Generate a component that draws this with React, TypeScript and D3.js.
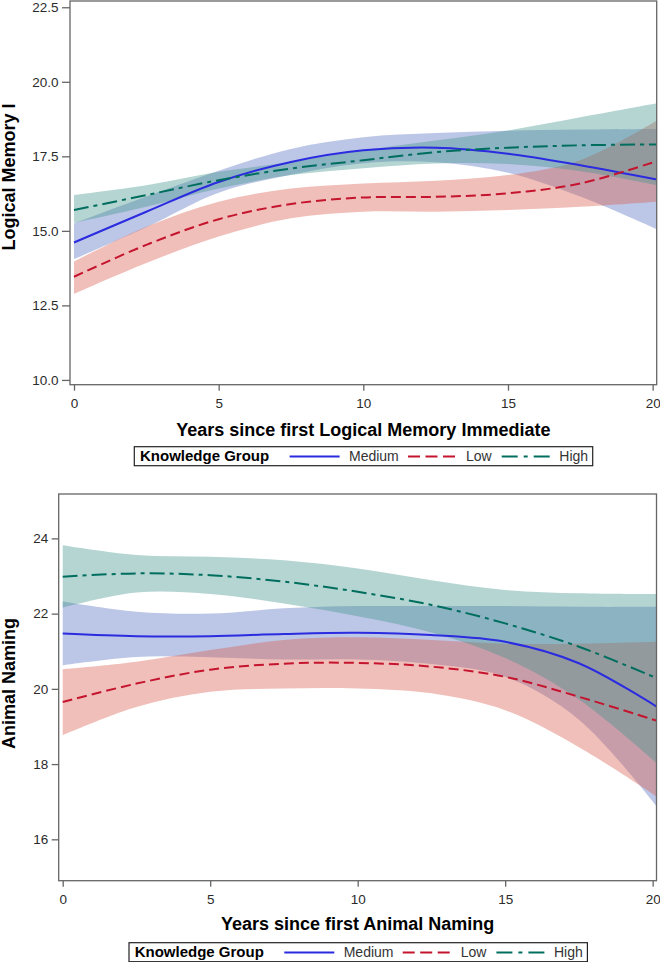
import React from "react";
import * as d3 from "d3";

// x grid the curves were read at (years)
const years = [0, 2.5, 5, 7.5, 10, 12.5, 15, 17.5, 20.15];

// Logical Memory I
const lmMedium = [14.61, 15.64, 16.64, 17.31, 17.7, 17.79, 17.59, 17.2, 16.72];
const lmMediumHi = [15.25, 16.15, 17.02, 17.75, 18.14, 18.28, 18.36, 18.4, 18.42];
const lmMediumLo = [14.05, 15.12, 16.28, 16.88, 17.27, 17.3, 16.95, 16.15, 15.05];
const lmLow = [13.46, 14.53, 15.39, 15.9, 16.12, 16.14, 16.26, 16.59, 17.34];
const lmLowHi = [13.97, 15.14, 15.98, 16.42, 16.59, 16.68, 16.87, 17.37, 18.7];
const lmLowLo = [12.88, 13.92, 14.81, 15.42, 15.64, 15.64, 15.7, 15.81, 15.98];
const lmHigh = [15.7, 16.2, 16.7, 17.09, 17.37, 17.64, 17.79, 17.87, 17.9];
const lmHighHi = [16.2, 16.53, 16.98, 17.31, 17.7, 18.03, 18.37, 18.81, 19.28];
const lmHighLo = [15.27, 15.81, 16.42, 16.87, 17.1, 17.26, 17.24, 17.0, 16.53];

// Animal Naming
const anMedium = [21.47, 21.4, 21.4, 21.46, 21.49, 21.43, 21.25, 20.68, 19.52];
const anMediumHi = [22.32, 22.05, 22.0, 22.14, 22.2, 22.2, 22.2, 22.18, 22.18];
const anMediumLo = [20.63, 20.85, 20.84, 20.78, 20.78, 20.66, 20.32, 19.18, 16.86];
const anLow = [19.65, 20.14, 20.51, 20.67, 20.69, 20.59, 20.32, 19.79, 19.15];
const anLowHi = [20.52, 20.72, 21.03, 21.3, 21.37, 21.3, 21.2, 21.2, 21.25];
const anLowLo = [18.77, 19.52, 19.92, 20.01, 20.01, 19.88, 19.43, 18.45, 17.13];
const anHigh = [22.98, 23.07, 23.02, 22.85, 22.58, 22.23, 21.74, 21.12, 20.28];
const anHighHi = [23.82, 23.56, 23.51, 23.42, 23.2, 22.89, 22.63, 22.54, 22.52];
const anHighLo = [22.16, 22.56, 22.52, 22.27, 21.93, 21.5, 20.82, 19.72, 18.02];

const groups = ["Medium", "Low", "High"];
const xTicks = [0, 5, 10, 15, 20];
const lmTicks = [10, 12.5, 15, 17.5, 20, 22.5];
const anTicks = [16, 18, 20, 22, 24];

const lineColors = { Medium: "#2b2be0", Low: "#c4142e", High: "#006e5e" };
const bandColors = { Medium: "#5870c0", Low: "#da5f50", High: "#43968c" };
const dashes = { Medium: null, Low: "10,5", High: "15,5,4,5" };

const FONT = '"Liberation Sans", Arial, sans-serif';

const panels = [
    {
        id: "lm",
        series: {
            Medium: [lmMedium, lmMediumLo, lmMediumHi],
            Low: [lmLow, lmLowLo, lmLowHi],
            High: [lmHigh, lmHighLo, lmHighHi],
        },
        yTicks: lmTicks,
        fmt: d3.format(".1f"),
        frame: { left: 70, top: 1, right: 656.7, bottom: 384.7 },
        xDomain: [-0.138, 20.14],
        yDomain: [9.84, 22.71],
        yTickSize: 8,
        yPad: 3.5,
        yLabel: "Logical Memory I",
        yLabelMid: 177,
        xLabel: "Years since first Logical Memory Immediate",
        xLabelY: 436,
        legend: { left: 134.3, top: 446.7 },
    },
    {
        id: "an",
        series: {
            Medium: [anMedium, anMediumLo, anMediumHi],
            Low: [anLow, anLowLo, anLowHi],
            High: [anHigh, anHighLo, anHighHi],
        },
        yTicks: anTicks,
        fmt: d3.format("d"),
        frame: { left: 58.7, top: 494, right: 656.5, bottom: 880.7 },
        xDomain: [-0.136, 20.13],
        yDomain: [14.9, 25.18],
        yTickSize: 7,
        yPad: 3.4,
        yLabel: "Animal Naming",
        yLabelMid: 683.5,
        xLabel: "Years since first Animal Naming",
        xLabelY: 930,
        legend: { left: 129, top: 942.7 },
    },
];

export default function App() {
    const ref = React.useRef<SVGSVGElement>(null);

    React.useEffect(() => {
        const svg = d3.select(ref.current);
        svg.selectAll("*").remove();
        panels.forEach((p) => drawPanel(svg, p));
    }, []);

    function drawPanel(svg: any, p: any) {
        const f = p.frame;
        const x = d3.scaleLinear().domain(p.xDomain).range([f.left, f.right]);
        const y = d3.scaleLinear().domain(p.yDomain).range([f.bottom, f.top]);

        svg.append("defs")
            .append("clipPath")
            .attr("id", "clip-" + p.id)
            .append("rect")
            .attr("x", f.left)
            .attr("y", f.top)
            .attr("width", f.right - f.left)
            .attr("height", f.bottom - f.top);

        const plot = svg.append("g").attr("clip-path", `url(#clip-${p.id})`);

        // confidence bands first
        groups.forEach((gName) => {
            const [mid, lo, hi] = p.series[gName];
            const area = d3
                .area<number>()
                .x((d, i) => x(years[i]))
                .y0((d, i) => y(lo[i]))
                .y1((d, i) => y(hi[i]))
                .curve(d3.curveCatmullRom);
            plot.append("path")
                .datum(mid)
                .attr("d", area)
                .attr("fill", bandColors[gName])
                .attr("fill-opacity", 0.4);
        });

        // fitted curves
        groups.forEach((gName) => {
            const mid = p.series[gName][0];
            const line = d3
                .line<number>()
                .x((d, i) => x(years[i]))
                .y((d) => y(d))
                .curve(d3.curveCatmullRom);
            plot.append("path")
                .datum(mid)
                .attr("d", line)
                .attr("fill", "none")
                .attr("stroke", lineColors[gName])
                .attr("stroke-width", 2)
                .attr("stroke-dasharray", dashes[gName]);
        });

        // frame
        svg.append("rect")
            .attr("x", f.left)
            .attr("y", f.top)
            .attr("width", f.right - f.left)
            .attr("height", f.bottom - f.top)
            .attr("fill", "none")
            .attr("stroke", "#666")
            .attr("stroke-width", 1.3);

        // axes
        const xAxis = svg
            .append("g")
            .attr("transform", `translate(0,${f.bottom})`)
            .call(d3.axisBottom(x).tickValues(xTicks).tickSize(6).tickPadding(8).tickFormat(d3.format("d")));
        const yAxis = svg
            .append("g")
            .attr("transform", `translate(${f.left},0)`)
            .call(d3.axisLeft(y).tickValues(p.yTicks).tickSize(p.yTickSize).tickPadding(p.yPad).tickFormat(p.fmt));
        [xAxis, yAxis].forEach((a) => {
            a.select(".domain").remove();
            a.selectAll(".tick line").attr("stroke", "#666").attr("stroke-width", 1.3);
            a.selectAll(".tick text")
                .attr("fill", "#2b2b2b")
                .style("font-family", FONT)
                .style("font-size", "13.5px");
        });

        // axis titles
        svg.append("text")
            .attr("x", (f.left + f.right) / 2)
            .attr("y", p.xLabelY)
            .attr("text-anchor", "middle")
            .style("font-family", FONT)
            .style("font-size", "18px")
            .style("font-weight", "bold")
            .text(p.xLabel);
        svg.append("text")
            .attr("transform", `translate(15,${p.yLabelMid}) rotate(-90)`)
            .attr("text-anchor", "middle")
            .style("font-family", FONT)
            .style("font-size", "18px")
            .style("font-weight", "bold")
            .text(p.yLabel);

        drawLegend(svg, p.legend.left, p.legend.top);
    }

    function drawLegend(svg: any, left: number, top: number) {
        const lg = svg.append("g").attr("transform", `translate(${left},${top})`);
        lg.append("rect")
            .attr("width", 458.4)
            .attr("height", 19)
            .attr("fill", "white")
            .attr("stroke", "#222")
            .attr("stroke-width", 1.2);
        lg.append("text")
            .attr("x", 5.7)
            .attr("y", 14.6)
            .style("font-family", FONT)
            .style("font-size", "15px")
            .style("font-weight", "bold")
            .text("Knowledge Group");
        // swatch start / text start, px from box left
        const slots = { Medium: [155.3, 214.7], Low: [273.7, 331.7], High: [367.4, 425] };
        groups.forEach((gName) => {
            const [s, t] = slots[gName];
            lg.append("line")
                .attr("x1", s)
                .attr("x2", s + 50)
                .attr("y1", 9.8)
                .attr("y2", 9.8)
                .attr("stroke", lineColors[gName])
                .attr("stroke-width", 2)
                .attr("stroke-dasharray", gName === "Low" ? "12,5.5" : gName === "High" ? "16,6,4,6" : null);
            lg.append("text")
                .attr("x", t)
                .attr("y", 14.6)
                .attr("fill", "#333")
                .style("font-family", FONT)
                .style("font-size", "14px")
                .text(gName);
        });
    }

    return (
        <svg
            ref={ref}
            width={660}
            height={962}
            style={{ position: "absolute", left: 0, top: 0, background: "white" }}
        />
    );
}
